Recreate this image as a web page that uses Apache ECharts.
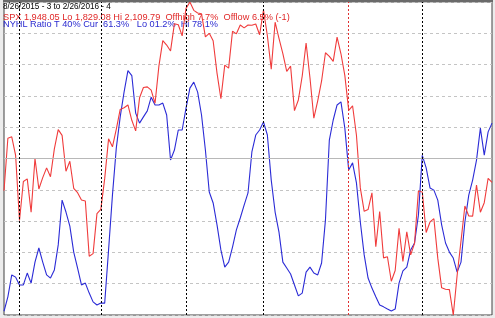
<!DOCTYPE html>
<html>
<head>
<meta charset="utf-8">
<script src="https://cdn.jsdelivr.net/npm/echarts@6/dist/echarts.min.js"></script>
<style>
html,body{margin:0;padding:0;background:#ececec;}
#chart{width:495px;height:318px;}
</style>
</head>
<body>
<div id="chart"></div>
<script>
// Trading days 8/26/2015 .. 2/26/2016
const dates = [
'8/26','8/27','8/28','8/31',
'9/1','9/2','9/3','9/4','9/8','9/9','9/10','9/11','9/14','9/15','9/16','9/17','9/18','9/21','9/22','9/23','9/24','9/25','9/28','9/29','9/30',
'10/1','10/2','10/5','10/6','10/7','10/8','10/9','10/12','10/13','10/14','10/15','10/16','10/19','10/20','10/21','10/22','10/23','10/26','10/27','10/28','10/29','10/30',
'11/2','11/3','11/4','11/5','11/6','11/9','11/10','11/11','11/12','11/13','11/16','11/17','11/18','11/19','11/20','11/23','11/24','11/25','11/27','11/30',
'12/1','12/2','12/3','12/4','12/7','12/8','12/9','12/10','12/11','12/14','12/15','12/16','12/17','12/18','12/21','12/22','12/23','12/24','12/28','12/29','12/30','12/31',
'1/4','1/5','1/6','1/7','1/8','1/11','1/12','1/13','1/14','1/15','1/19','1/20','1/21','1/22','1/25','1/26','1/27','1/28','1/29',
'2/1','2/2','2/3','2/4','2/5','2/8','2/9','2/10','2/11','2/12','2/16','2/17','2/18','2/19','2/22','2/23','2/24','2/25','2/26'
];

// SPX closes (red, left scale)
const spx = [
1940.51,1987.66,1988.87,1972.18,
1913.85,1948.86,1951.13,1921.22,1969.41,1942.04,1952.29,1961.05,1953.03,1978.09,1995.31,1990.20,1958.03,1966.97,1942.74,1938.76,1932.24,1931.34,1881.77,1884.09,1920.03,
1923.82,1951.36,1987.05,1979.92,1995.83,2013.43,2014.89,2017.46,2003.69,1994.24,2023.86,2033.11,2033.66,2030.77,2018.94,2052.51,2075.15,2071.18,2065.89,2090.35,2089.41,2079.36,
2104.05,2109.79,2102.31,2099.93,2099.20,2078.58,2081.72,2075.00,2045.97,2023.04,2053.19,2050.44,2083.58,2081.24,2089.17,2086.59,2089.14,2088.87,2090.11,2080.41,
2102.63,2079.51,2049.62,2091.69,2077.07,2063.59,2047.62,2052.23,2012.37,2021.94,2043.41,2073.07,2041.89,2005.55,2021.15,2038.97,2064.29,2060.99,2056.50,2078.36,2063.36,2043.94,
2012.66,2016.71,1990.26,1943.09,1922.03,1923.67,1938.68,1890.28,1921.84,1880.33,1881.33,1859.33,1868.99,1906.90,1877.08,1903.63,1882.95,1893.36,1940.24,
1939.38,1903.03,1912.53,1915.45,1880.05,1853.44,1852.21,1851.86,1829.08,1864.78,1895.58,1926.82,1917.83,1917.78,1945.50,1921.27,1929.80,1951.70,1948.05
];

// NYSE high/low ratio % (blue, right scale 0-100)
const nyhl = [
1.2,5.8,12.8,12.1,9.6,9.6,13.4,10.2,16.9,21.4,
16.9,12.8,11.8,14.4,22.4,36.7,32.9,28.4,20.1,15.0,
9.6,10.2,7.0,4.2,3.2,3.8,3.8,20.8,38.3,53.4,
63.3,71.2,78.1,76.5,64.5,61.3,63.3,65.2,69.6,67.1,
67.1,67.7,63.9,49.5,52.7,59.1,59.1,66.1,72.5,74.4,
71.2,63.9,52.7,39.3,35.8,28.8,20.8,15.3,16.9,21.7,
27.2,31.0,35.1,39.0,52.1,57.5,59.1,61.7,57.5,43.1,
32.9,26.5,16.9,15.0,13.1,9.6,6.1,7.0,13.7,15.3,
13.4,12.8,16.6,30.4,55.9,62.3,67.1,68.1,59.7,46.3,
48.6,42.2,29.7,19.2,11.8,8.6,5.8,3.2,2.6,1.9,
1.3,1.9,10.2,14.1,15.3,20.8,23.0,31.9,51.0,47.0,
40.6,39.9,36.7,28.8,23.0,20.1,18.2,13.7,16.9,29.7,
38.3,43.1,49.5,59.7,51.1,58.5,61.3
];

const monthStarts = ['9/1','10/1','11/2','12/1','2/1'];
const yearStart = '1/4';
const spxMin = 1829.08, spxMax = 2109.79;
const ratioTicks = [0, 100, 10];
const ratioMid = 50;

const titleLine1 = '8/26/2015 - 3 to 2/26/2016 - 4';
const titleLine2 = 'SPX 1,948.05 Lo 1,829.08 Hi 2,109.79  Offhigh 7.7%  Offlow 6.5% (-1)';
const titleLine3 = 'NYHL Ratio T 40% Cur  61.3%   Lo 01.2%  Hi 78.1%';

const RED = '#f03c3c';
const BLUE = '#2b2bd6';
const FONT = '"Liberation Sans", Arial, sans-serif';

const chart = echarts.init(document.getElementById('chart'), null, {renderer:'canvas'});

const vLines = monthStarts.map(d => ({xAxis: d, lineStyle:{color:'#000', type:[2,2], width:1}}))
  .concat([{xAxis: yearStart, lineStyle:{color:'#e03030', type:[2,2], width:1}}]);

chart.setOption({
  animation: false,
  backgroundColor: '#ececec',
  grid: {left:4, right:3, top:2, bottom:3, show:true, backgroundColor:'#ffffff', borderColor:'#404040', borderWidth:1},
  xAxis: {type:'category', data:dates, boundaryGap:false,
    axisLine:{show:false}, axisTick:{show:false}, axisLabel:{show:false}, splitLine:{show:false}},
  yAxis: [
    {type:'value', min:spxMin, max:spxMax, show:true, axisLine:{show:false}, axisTick:{show:false}, axisLabel:{show:false}, splitLine:{show:false}},
    {type:'value', min:ratioTicks[0], max:ratioTicks[1], interval:ratioTicks[2], position:'right',
      axisLine:{show:false}, axisTick:{show:false}, axisLabel:{show:false},
      splitLine:{show:true, lineStyle:{color:'#c4c4c4', type:[3,3], width:1}}}
  ],
  graphic: [
    {type:'rect', left:3, top:0, z:10, shape:{width:490, height:2}, style:{fill:'#6a6a6a'}, silent:true},
    {type:'text', x:3, y:6.5, z:0, style:{text:titleLine1, fill:'#000', font:'8.2px ' + FONT, verticalAlign:'middle'}},
    {type:'text', x:3, y:17, z:0, style:{text:titleLine2, fill:'#e02828', font:'9.2px ' + FONT, verticalAlign:'middle'}},
    {type:'text', x:3, y:24, z:0, style:{text:titleLine3, fill:'#2a2ad0', font:'9.2px ' + FONT, verticalAlign:'middle'}}
  ],
  series: [
    {name:'NYHL', type:'line', yAxisIndex:1, data:nyhl, showSymbol:false, symbol:'none',
      lineStyle:{color:BLUE, width:1.1}, z:3,
      markLine:{silent:true, symbol:'none', label:{show:false},
        data:[{yAxis:ratioMid, lineStyle:{color:'#b8b8b8', type:'solid', width:1}}]}},
    {name:'SPX', type:'line', yAxisIndex:0, data:spx, showSymbol:false, symbol:'none',
      lineStyle:{color:RED, width:1.1}, z:4,
      markLine:{silent:true, symbol:'none', label:{show:false}, data:vLines}}
  ]
});
</script>
</body>
</html>
